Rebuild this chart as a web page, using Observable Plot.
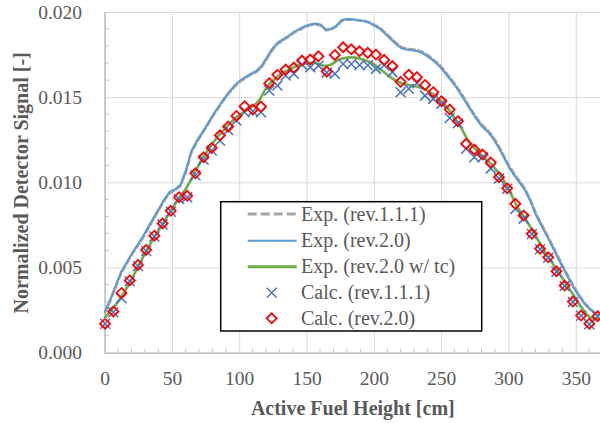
<!DOCTYPE html>
<html><head><meta charset="utf-8">
<script src="https://cdn.jsdelivr.net/npm/d3@7"></script>
<script src="https://cdn.jsdelivr.net/npm/@observablehq/plot@0.6"></script>
<style>
body{margin:0;background:#fff;}
#chart{position:relative;width:600px;height:423px;}
</style>
</head><body><div id="chart"></div>
<script>
// ---- data ----
const xTicks = [0, 50, 100, 150, 200, 250, 300, 350];
const yTicks = [0, 0.005, 0.010, 0.015, 0.020];
const xMinor = [10,20,30,40,60,70,80,90,110,120,130,140,160,170,180,190,210,220,230,240,260,270,280,290,310,320,330,340,360];
const yMinor = [0.001,0.002,0.003,0.004,0.006,0.007,0.008,0.009,0.011,0.012,0.013,0.014,0.016,0.017,0.018,0.019];
const legendLabels = ["Exp. (rev.1.1.1)", "Exp. (rev.2.0)", "Exp. (rev.2.0 w/ tc)", "Calc. (rev.1.1.1)", "Calc. (rev.2.0)"];
const xTitle = "Active Fuel Height [cm]";
const yTitle = "Normalized Detector Signal [-]";

const expX = [0,4,8,12,16,20,24,28,32,36,40,44,48,52,56,60,64,68,72,76,80,84,88,92,96,100,104,108,112,116,120,124,128,132,136,140,144,148,152,156,160,164,168,172,176,180,184,188,192,196,200,204,208,212,216,220,224,228,232,236,240,244,248,252,256,260,264,268,272,276,280,284,288,292,296,300,304,308,312,316,320,324,328,332,336,340,344,348,352,356,360,364,366];
const expRev20 = [0.00245,0.00320,0.00400,0.00480,0.00532,0.00588,0.00635,0.00685,0.00740,0.00795,0.00850,0.00905,0.00948,0.00962,0.00990,0.01075,0.01185,0.01245,0.01295,0.01345,0.01398,0.01445,0.01492,0.01533,0.01570,0.01600,0.01620,0.01640,0.01655,0.01685,0.01735,0.01785,0.01822,0.01842,0.01862,0.01885,0.01902,0.01918,0.01930,0.01936,0.01930,0.01900,0.01905,0.01925,0.01958,0.01962,0.01960,0.01955,0.01950,0.01940,0.01922,0.01905,0.01875,0.01845,0.01815,0.01790,0.01782,0.01778,0.01772,0.01760,0.01740,0.01715,0.01688,0.01650,0.01610,0.01570,0.01522,0.01472,0.01420,0.01372,0.01330,0.01302,0.01262,0.01212,0.01152,0.01092,0.01042,0.01000,0.00955,0.00890,0.00812,0.00750,0.00690,0.00628,0.00565,0.00502,0.00442,0.00385,0.00335,0.00290,0.00258,0.00232,0.00225];
const expRev111 = [0.00238,0.00310,0.00390,0.00470,0.00524,0.00580,0.00627,0.00676,0.00731,0.00786,0.00841,0.00896,0.00940,0.00956,0.00980,0.01062,0.01175,0.01237,0.01287,0.01337,0.01390,0.01437,0.01484,0.01526,0.01563,0.01594,0.01614,0.01634,0.01648,0.01676,0.01725,0.01776,0.01815,0.01836,0.01856,0.01879,0.01897,0.01913,0.01925,0.01931,0.01924,0.01895,0.01900,0.01918,0.01952,0.01958,0.01958,0.01955,0.01952,0.01944,0.01928,0.01912,0.01882,0.01853,0.01823,0.01797,0.01788,0.01784,0.01779,0.01768,0.01748,0.01723,0.01697,0.01660,0.01620,0.01580,0.01532,0.01482,0.01430,0.01382,0.01340,0.01311,0.01272,0.01222,0.01162,0.01102,0.01052,0.01010,0.00965,0.00900,0.00822,0.00760,0.00700,0.00638,0.00575,0.00512,0.00452,0.00395,0.00344,0.00298,0.00264,0.00236,0.00228];

const tcX = [0,6,12,18,24,30,36,42,48,54,60,66,72,78,84,90,96,102,108,114,120,126,132,138,144,150,156,162,168,174,180,186,192,198,204,210,216,222,228,234,240,246,252,258,264,270,276,282,288,294,300,306,312,318,324,330,336,342,348,354,360,366];
const expRev20tc = [0.00211,0.00265,0.00330,0.00410,0.00500,0.00590,0.00675,0.00750,0.00825,0.00900,0.00965,0.01050,0.01140,0.01210,0.01275,0.01325,0.01375,0.01410,0.01440,0.01480,0.01560,0.01610,0.01645,0.01670,0.01690,0.01702,0.01705,0.01688,0.01695,0.01725,0.01735,0.01735,0.01722,0.01705,0.01670,0.01632,0.01600,0.01580,0.01570,0.01560,0.01540,0.01505,0.01460,0.01400,0.01330,0.01245,0.01190,0.01145,0.01100,0.01040,0.00960,0.00862,0.00790,0.00715,0.00630,0.00555,0.00485,0.00412,0.00340,0.00268,0.00212,0.00200];

const calcX = [0,6.1,12.2,18.3,24.4,30.5,36.6,42.7,48.8,54.9,61.0,67.1,73.2,79.2,85.3,91.4,97.5,103.6,109.7,115.8,121.9,128.0,134.1,140.2,146.3,152.4,158.5,164.6,170.7,176.8,182.9,189.0,195.1,201.2,207.3,213.4,219.5,225.6,231.6,237.7,243.8,249.9,256.0,262.1,268.2,274.3,280.4,286.5,292.6,298.7,304.8,310.9,317.0,323.1,329.2,335.3,341.4,347.5,353.6,359.7,365.8];
const calcRev111 = [0.00173,0.00240,0.00322,0.00422,0.00512,0.00600,0.00685,0.00755,0.00830,0.00905,0.00915,0.01045,0.01135,0.01190,0.01248,0.01310,0.01366,0.01414,0.01420,0.01414,0.01542,0.01571,0.01630,0.01640,0.01694,0.01678,0.01688,0.01647,0.01640,0.01698,0.01698,0.01692,0.01690,0.01669,0.01690,0.01650,0.01532,0.01552,0.01585,0.01512,0.01493,0.01465,0.01381,0.01350,0.01200,0.01150,0.01150,0.01085,0.01025,0.00965,0.00847,0.00790,0.00700,0.00610,0.00560,0.00478,0.00395,0.00300,0.00220,0.00170,0.00215];
const calcRev20 = [0.00173,0.00245,0.00354,0.00427,0.00518,0.00606,0.00690,0.00762,0.00836,0.00916,0.00924,0.01056,0.01150,0.01205,0.01279,0.01330,0.01393,0.01450,0.01430,0.01448,0.01585,0.01634,0.01665,0.01677,0.01718,0.01724,0.01743,0.01653,0.01751,0.01796,0.01784,0.01772,0.01763,0.01753,0.01722,0.01686,0.01593,0.01634,0.01620,0.01575,0.01532,0.01479,0.01430,0.01362,0.01229,0.01195,0.01166,0.01119,0.01033,0.00968,0.00877,0.00808,0.00701,0.00613,0.00563,0.00481,0.00397,0.00303,0.00221,0.00173,0.00217];

// ---- tables ----
const gray = expX.map((x, i) => ({x, y: expRev111[i]}));
const blue = expX.map((x, i) => ({x, y: expRev20[i]}));
const green = tcX.map((x, i) => ({x, y: expRev20tc[i]}));
const cross = calcX.map((x, i) => ({x, y: calcRev111[i]}));
const diam = calcX.map((x, i) => ({x, y: calcRev20[i]}));

const C = {gray: "#a5a5a5", blue: "#5b9bd5", green: "#70ad47", cross: "#4472c4", diam: "#ff0000", text: "#595959", grid: "#d9d9d9", axis: "#bfbfbf"};
const FONT = "'Liberation Serif', 'Times New Roman', serif";

const chart = Plot.plot({
  width: 600, height: 423,
  marginLeft: 104.6, marginRight: 0, marginTop: 12, marginBottom: 70.3,
  style: {fontFamily: FONT, fontSize: "19.5px", color: C.text, background: "#fff", overflow: "hidden"},
  x: {domain: [0, 368], label: null},
  y: {domain: [0, 0.02], label: null},
  marks: [
    Plot.gridX(xTicks, {stroke: C.grid, strokeOpacity: 1, strokeWidth: 1}),
    Plot.gridY(yTicks, {stroke: C.grid, strokeOpacity: 1, strokeWidth: 1}),
    Plot.axisX(xTicks, {tickSize: 0, tickPadding: 18, fontSize: 19.5, fill: C.text, label: null}),
    Plot.axisY(yTicks, {tickSize: 0, tickPadding: 23, fontSize: 19.5, fill: C.text, tickFormat: d3.format(".3f"), label: null}),
    Plot.ruleY([0], {stroke: C.axis, strokeWidth: 1.5}),
    Plot.ruleX([0], {stroke: C.axis, strokeWidth: 1.5}),
    Plot.line(gray, {x: "x", y: "y", stroke: C.gray, strokeWidth: 2.5, strokeDasharray: "6,3"}),
    Plot.line(blue, {x: "x", y: "y", stroke: C.blue, strokeWidth: 2}),
    Plot.line(green, {x: "x", y: "y", stroke: C.green, strokeWidth: 2.6, curve: "catmull-rom"}),
    Plot.dot(cross, {x: "x", y: "y", symbol: "times", r: 4.6, stroke: C.cross, strokeWidth: 1.5}),
    Plot.dot(diam, {x: "x", y: "y", symbol: "diamond2", r: 4.5, stroke: C.diam, strokeWidth: 1.8, fill: "none"}),
    Plot.text([xTitle], {frameAnchor: "bottom", dy: 55, textAnchor: "middle", lineAnchor: "middle", fontWeight: "bold", fontSize: 20, fill: C.text}),
    Plot.text([yTitle], {frameAnchor: "left", dx: -84, textAnchor: "middle", lineAnchor: "middle", rotate: -90, fontWeight: "bold", fontSize: 20, fill: C.text})
  ]
});

document.getElementById("chart").appendChild(chart);

// minor ticks (inside) using the plot's own scales
const sx = chart.scale("x"), sy = chart.scale("y");
const svg = d3.select(chart);
const y0 = sy.apply(0), x0 = sx.apply(0);
const g = svg.append("g").attr("stroke", C.axis).attr("stroke-width", 1);
xMinor.forEach(v => g.append("line").attr("x1", sx.apply(v)).attr("x2", sx.apply(v)).attr("y1", y0).attr("y2", y0 - 4));
yMinor.forEach(v => g.append("line").attr("x1", x0).attr("x2", x0 + 4).attr("y1", sy.apply(v)).attr("y2", sy.apply(v)));

// legend
const L = svg.append("g").attr("font-family", FONT).attr("font-size", 20).attr("fill", C.text).attr("text-anchor", "start");
L.append("rect").attr("x", 220.7).attr("y", 201.7).attr("width", 261).attr("height", 129.3)
  .attr("fill", "#fff").attr("stroke", "#000").attr("stroke-width", 1.5);
const rows = [214, 240.7, 266.7, 292.7, 318.3];
const lx1 = 247.7, lx2 = 296.7, lmx = 271.7, ltx = 301;
L.append("line").attr("x1", lx1).attr("x2", lx2).attr("y1", rows[0]).attr("y2", rows[0]).attr("stroke", C.gray).attr("stroke-width", 3).attr("stroke-dasharray", "9,4");
L.append("line").attr("x1", lx1).attr("x2", lx2).attr("y1", rows[1]).attr("y2", rows[1]).attr("stroke", C.blue).attr("stroke-width", 2);
L.append("line").attr("x1", lx1).attr("x2", lx2).attr("y1", rows[2]).attr("y2", rows[2]).attr("stroke", C.green).attr("stroke-width", 3);
L.append("path").attr("d", d3.symbol(d3.symbolTimes, 67)()).attr("transform", `translate(${lmx},${rows[3]})`).attr("stroke", C.cross).attr("stroke-width", 1.4).attr("fill", "none");
L.append("path").attr("d", d3.symbol(d3.symbolDiamond2, 64)()).attr("transform", `translate(${lmx},${rows[4]})`).attr("stroke", C.diam).attr("stroke-width", 1.8).attr("fill", "none");
legendLabels.forEach((t, i) => L.append("text").attr("x", ltx).attr("y", rows[i]).attr("dy", "0.33em").attr("text-anchor", "start").text(t));
</script>
</body></html>
